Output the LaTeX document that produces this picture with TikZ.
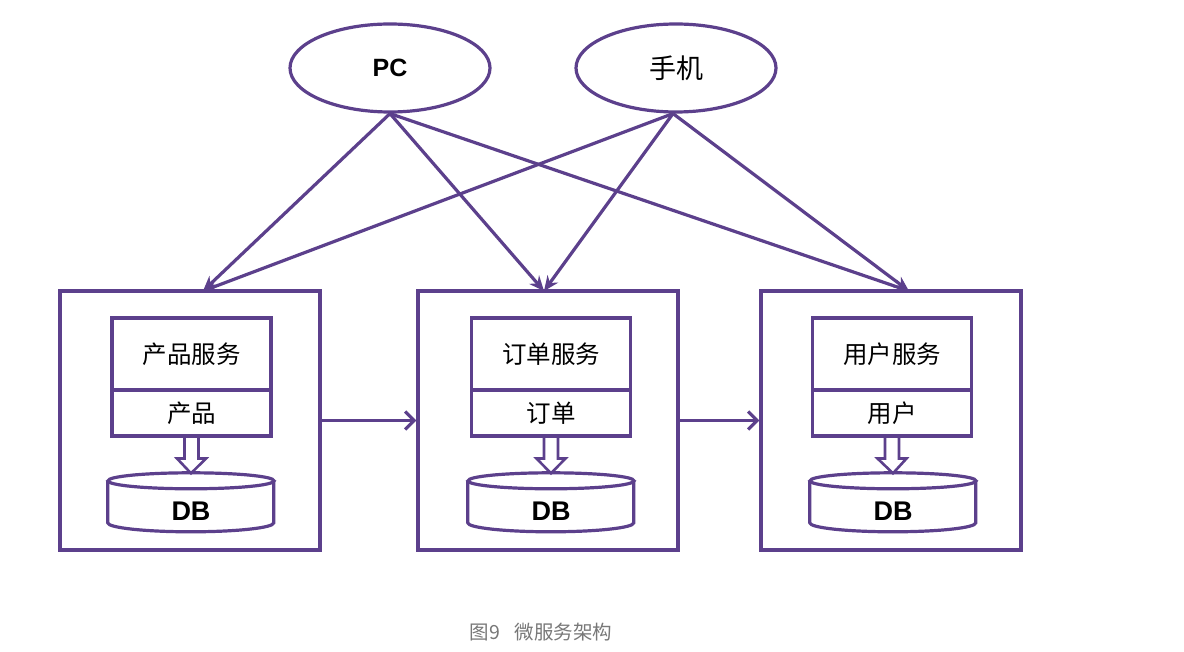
\documentclass[tikz,border=0pt]{standalone}
\usepackage{fontspec}
\setmainfont{Liberation Sans}
\newfontfamily\cjk{Noto Sans CJK SC}
\usetikzlibrary{shapes.geometric,arrows.meta,calc}
\definecolor{pline}{RGB}{92,64,140}
\definecolor{capgray}{RGB}{120,120,120}
\begin{document}
\begin{tikzpicture}[x=1pt,y=1pt,
  lw/.style={line width=3.2pt, draw=pline},
  client/.style={ellipse, lw, minimum width=200pt, minimum height=88pt, inner sep=0pt, font=\fontsize{25}{25}\selectfont\bfseries},
  clientcn/.style={ellipse, lw, minimum width=200pt, minimum height=88pt, inner sep=0pt, font=\fontsize{27}{27}\selectfont\cjk},
  outerbox/.style={rectangle, lw, minimum width=260pt, minimum height=259pt, inner sep=0pt},
  svcbox/.style={rectangle, lw, outer sep=0pt, minimum width=159pt, minimum height=72pt, inner sep=0pt, font=\fontsize{24.5}{24.5}\selectfont\cjk},
  databox/.style={rectangle, lw, outer sep=0pt, minimum width=159pt, minimum height=46pt, inner sep=0pt, font=\fontsize{24.5}{24.5}\selectfont\cjk},
  dbnode/.style={rectangle, minimum width=166pt, minimum height=61pt, inner sep=0pt},
  dblabel/.style={font=\fontsize{27}{27}\selectfont\bfseries, inner sep=0pt},
  link/.style={lw, -{Stealth[length=15pt,width=13pt,inset=5pt]}},
  hlink/.style={lw, -{Straight Barb[length=9pt,width=18pt]}},
]
\useasboundingbox (0,0) rectangle (1184,-652);
\fill[white] (0,0) rectangle (1184,-652);

% clients
\node[client] (pc) at (390,-68) {PC};
\node[clientcn] (mb) at (676,-68) {手机};

% outer boxes
\node[outerbox] (b1) at (190,-420.5) {};
\node[outerbox] (b2) at (548,-420.5) {};
\node[outerbox] (b3) at (891,-420.5) {};

% service boxes
\node[svcbox] (s1) at (191.5,-354) {产品服务};
\node[databox, anchor=north] (d1) at (s1.south) {产品};
\node[svcbox] (s2) at (551,-354) {订单服务};
\node[databox, anchor=north] (d2) at (s2.south) {订单};
\node[svcbox] (s3) at (892,-354) {用户服务};
\node[databox, anchor=north] (d3) at (s3.south) {用户};

% databases
\foreach \i/\x in {1/191,2/551,3/893}{
  \node[dbnode] (db\i) at (\x,-503) {};
  \draw[lw, fill=white] (db\i.north west) ++(0,-8.5)
      -- ++(0,-42) arc[start angle=180, end angle=360, x radius=83pt, y radius=9pt]
      -- ++(0,42);
  \draw[lw] ($(db\i.north)+(0,-8.5)$) ellipse [x radius=83pt, y radius=8pt];
  \node[dblabel] (dbt\i) at ($(db\i)+(0,-8)$) {DB};
  % hollow double arrow from data box to DB
  \draw[lw, line width=2.6pt, line join=miter]
    ($(d\i.south)+(-7,-1.5)$) -- ++(0,-21) -- ++(-7.5,0) -- ($(db\i.north)+(0,-1)$)
    -- ($(d\i.south)+(14.5,-22.5)$) -- ++(-7.5,0) -- ++(0,21);
}

% target coordinates on the outer boxes
\coordinate (t1) at (203,-291);
\coordinate (t2) at (544,-291);
\coordinate (t3) at (909,-291);
\coordinate (mbs) at ($(mb.south)+(-3,0)$);

% client links
\draw[link] (pc.south) -- (t1);
\draw[link] (pc.south) -- (t2);
\draw[link] (pc.south) -- (t3);
\draw[link] (mbs) -- (t1);
\draw[link] (mbs) -- (t2);
\draw[link] (mbs) -- (t3);

% service links
\draw[hlink] (b1.east) -- (b2.west);
\draw[hlink] (b2.east) -- (b3.west);

% caption
\node[text=capgray, font=\fontsize{19.5}{19.5}\selectfont\cjk] (cap) at (541,-632) {图9\hspace{15pt}微服务架构};
\end{tikzpicture}
\end{document}
